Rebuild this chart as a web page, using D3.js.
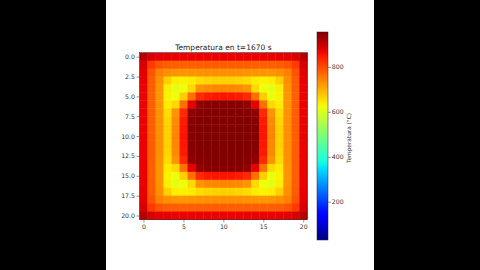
<!DOCTYPE html>
<html><head><meta charset="utf-8">
<script src="https://cdn.jsdelivr.net/npm/d3@7"></script>
<style>body{margin:0;background:#000;} svg{display:block;} text{font-family:"DejaVu Sans";opacity:0.99;}</style>
</head><body><svg id="c" width="480" height="270"></svg>
<script>
const title = "Temperatura en t=1670 s";
const cbLabel = "Temperatura (°C)";
const xTicks = [0, 5, 10, 15, 20];
const yTicks = [0, 2.5, 5, 7.5, 10, 12.5, 15, 17.5, 20];
const cbTicks = [200, 400, 600, 800];
const vmin = 30, vmax = 955;
const temps = [
[912,885,875,872,870,870,870,870,870,870,870,870,870,870,870,870,870,872,875,885,912],
[885,815,790,782,780,779,779,780,781,781,781,781,781,780,779,779,780,782,790,815,885],
[875,790,745,733,728,726,727,729,731,732,732,732,731,729,727,726,728,733,745,790,875],
[872,782,733,668,640,635,642,657,664,668,669,668,664,657,642,635,640,668,733,782,872],
[870,780,728,640,610,620,658,727,737,740,742,740,737,727,658,620,610,640,728,780,870],
[870,779,726,635,620,670,762,832,847,852,854,852,847,832,762,670,620,635,726,779,870],
[870,779,727,642,658,762,872,940,948,950,950,950,948,940,872,762,658,642,727,779,870],
[870,780,729,657,727,832,940,950,952,953,953,953,952,950,940,832,727,657,729,780,870],
[870,781,731,664,737,847,948,952,954,954,954,954,954,952,948,847,737,664,731,781,870],
[870,781,732,668,740,852,950,953,954,954,954,954,954,953,950,852,740,668,732,781,870],
[870,781,732,669,742,854,950,953,954,954,954,954,954,953,950,854,742,669,732,781,870],
[870,781,732,668,740,852,950,953,954,954,954,954,954,953,950,852,740,668,732,781,870],
[870,781,731,664,737,847,948,952,954,954,954,954,954,952,948,847,737,664,731,781,870],
[870,780,729,657,727,832,940,950,952,953,953,953,952,950,940,832,727,657,729,780,870],
[870,779,727,642,658,762,872,940,948,950,950,950,948,940,872,762,658,642,727,779,870],
[870,779,726,635,620,670,762,832,847,852,854,852,847,832,762,670,620,635,726,779,870],
[870,780,728,640,610,620,658,727,737,740,742,740,737,727,658,620,610,640,728,780,870],
[872,782,733,668,640,635,642,657,664,668,669,668,664,657,642,635,640,668,733,782,872],
[875,790,745,733,728,726,727,729,731,732,732,732,731,729,727,726,728,733,745,790,875],
[885,815,790,782,780,779,779,780,781,781,781,781,781,780,779,779,780,782,790,815,885],
[912,885,875,872,870,870,870,870,870,870,870,870,870,870,870,870,870,872,875,885,912]
];

const svg = d3.select("#c");
svg.append("rect").attr("width", 480).attr("height", 270).attr("fill", "#000");
svg.append("rect").attr("x", 106).attr("y", 0).attr("width", 268).attr("height", 270).attr("fill", "#fff");

const P = {x0: 139.5, x1: 307.2, y0: 52.7, y1: 219.5};
const n = temps.length;
const x = d3.scaleLinear().domain([-0.5, n - 0.5]).range([P.x0, P.x1]);
const y = d3.scaleLinear().domain([-0.5, n - 0.5]).range([P.y0, P.y1]);

// matplotlib "jet"
const jr = d3.scaleLinear().domain([0, 0.35, 0.66, 0.89, 1]).range([0, 0, 1, 1, 0.5]).clamp(true);
const jg = d3.scaleLinear().domain([0, 0.125, 0.375, 0.64, 0.91, 1]).range([0, 0, 1, 1, 0, 0]).clamp(true);
const jb = d3.scaleLinear().domain([0, 0.11, 0.34, 0.65, 1]).range([0.5, 1, 1, 0, 0]).clamp(true);
const norm = d3.scaleLinear().domain([vmin, vmax]).range([0, 1]).clamp(true);
const jet = t => d3.rgb(jr(t) * 255, jg(t) * 255, jb(t) * 255).formatHex();
const color = v => jet(norm(v));

const cells = [];
temps.forEach((row, r) => row.forEach((v, c) => cells.push({r, c, v})));
svg.append("g").selectAll("rect").data(cells).join("rect")
  .attr("x", d => x(d.c - 0.5))
  .attr("y", d => y(d.r - 0.5))
  .attr("width", d => x(d.c + 0.5) - x(d.c - 0.5) + 0.4)
  .attr("height", d => y(d.r + 0.5) - y(d.r - 0.5) + 0.4)
  .attr("fill", d => color(d.v));

svg.append("rect").attr("x", P.x0).attr("y", P.y0).attr("width", P.x1 - P.x0).attr("height", P.y1 - P.y0)
  .attr("fill", "none").attr("stroke", "#222").attr("stroke-width", 0.5);

const fs = 6.2;
function styleAxis(g) {
  g.attr("color", "#333");
  g.select(".domain").remove();
  g.selectAll("line").attr("stroke", "#333").attr("stroke-width", 0.5);
  g.selectAll("text").attr("font-size", fs).style("fill", "#333").attr("font-family", "DejaVu Sans");
}
const ax = svg.append("g").attr("transform", `translate(0,${P.y1})`)
  .call(d3.axisBottom(x).tickValues(xTicks).tickFormat(d3.format("d")).tickSize(3).tickPadding(2.2));
const ay = svg.append("g").attr("transform", `translate(${P.x0},0)`)
  .call(d3.axisLeft(y).tickValues(yTicks).tickFormat(d3.format(".1f")).tickSize(3).tickPadding(1.6));
styleAxis(ax); styleAxis(ay);

svg.append("text").attr("x", (P.x0 + P.x1) / 2).attr("y", 49.6).attr("text-anchor", "middle")
  .attr("font-size", 7.5).style("fill", "#222").text(title);

// colorbar
const CB = {x0: 317, x1: 328, y0: 32, y1: 240};
const cy = d3.scaleLinear().domain([vmin, vmax]).range([CB.y1, CB.y0]);
const defs = svg.append("defs");
const grad = defs.append("linearGradient").attr("id", "jetg").attr("x1", 0).attr("y1", 1).attr("x2", 0).attr("y2", 0);
grad.selectAll("stop").data(d3.range(0, 1.0001, 0.02)).join("stop")
  .attr("offset", d => d).attr("stop-color", d => jet(d));
svg.append("rect").attr("x", CB.x0).attr("y", CB.y0).attr("width", CB.x1 - CB.x0).attr("height", CB.y1 - CB.y0)
  .attr("fill", "url(#jetg)").attr("stroke", "#222").attr("stroke-width", 0.5);
const ac = svg.append("g").attr("transform", `translate(${CB.x1},0)`)
  .call(d3.axisRight(cy).tickValues(cbTicks).tickSize(3).tickPadding(0.8));
styleAxis(ac);

svg.append("text").attr("transform", `translate(351.3,${(CB.y0 + CB.y1) / 2 + 2})rotate(-90)`)
  .attr("text-anchor", "middle").attr("font-size", 5.8).style("fill", "#333").text(cbLabel);
</script></body></html>
